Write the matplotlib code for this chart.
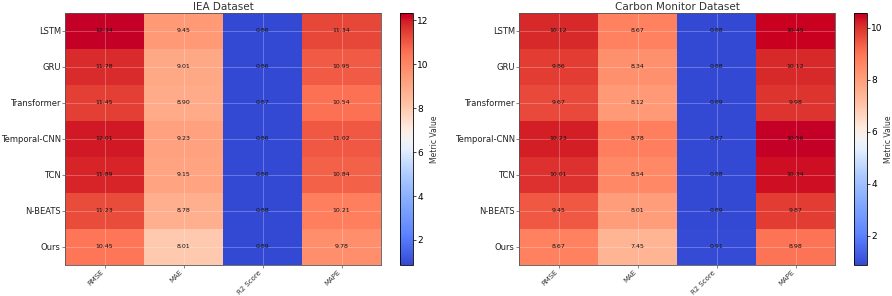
import numpy as np
import matplotlib.pyplot as plt
from matplotlib.colors import ListedColormap, rgb_to_hsv, hsv_to_rgb

models = ['LSTM', 'GRU', 'Transformer', 'Temporal-CNN', 'TCN', 'N-BEATS', 'Ours']
metrics = ['RMSE', 'MAE', 'R2 Score', 'MAPE']

# IEA dataset
iea_rmse = [12.34, 11.78, 11.45, 12.01, 11.89, 11.23, 10.45]
iea_mae = [9.45, 9.01, 8.90, 9.23, 9.15, 8.78, 8.01]
iea_r2 = [0.86, 0.86, 0.87, 0.86, 0.86, 0.88, 0.89]
iea_mape = [11.34, 10.95, 10.54, 11.02, 10.84, 10.21, 9.78]

# Carbon Monitor dataset
cm_rmse = [10.12, 9.86, 9.67, 10.23, 10.01, 9.45, 8.67]
cm_mae = [8.67, 8.34, 8.12, 8.78, 8.54, 8.01, 7.45]
cm_r2 = [0.88, 0.88, 0.89, 0.87, 0.88, 0.89, 0.91]
cm_mape = [10.45, 10.12, 9.98, 10.56, 10.34, 9.87, 8.98]

iea = np.array([iea_rmse, iea_mae, iea_r2, iea_mape]).T
cm = np.array([cm_rmse, cm_mae, cm_r2, cm_mape]).T

# coolwarm, a bit brighter like the reference image
base = plt.get_cmap('coolwarm')(np.linspace(0, 1, 256))[:, :3]
hsv = rgb_to_hsv(base)
hsv[:, 1] = np.clip(hsv[:, 1] * 1.08, 0, 1)
hsv[:, 2] = np.clip(hsv[:, 2] * 1.1, 0, 1)
cmap = ListedColormap(hsv_to_rgb(hsv))

fig = plt.figure(figsize=(8.92, 2.96), dpi=100)

def heat(data, title, rect, crect):
    ax = fig.add_axes(rect)
    im = ax.imshow(data, cmap=cmap, aspect='auto')
    ax.set_title(title, fontsize=7.5, color='#333333', pad=2)
    ax.set_xticks(range(len(metrics)))
    ax.set_xticklabels(metrics, rotation=45, ha='right', fontsize=5, color='#333333')
    ax.set_yticks(range(len(models)))
    ax.set_yticklabels(models, fontsize=6, color='#222222')
    ax.tick_params(length=2, width=0.5, color='#555555', pad=1)
    ax.grid(True, color='white', alpha=0.3, linewidth=0.6)
    for s in ax.spines.values():
        s.set_linewidth(0.6)
        s.set_color('#555555')
    for i in range(data.shape[0]):
        for j in range(data.shape[1]):
            ax.text(j, i, f'{data[i, j]:.2f}', ha='center', va='center', fontsize=4.5, color='#111111')
    cax = fig.add_axes(crect)
    cb = fig.colorbar(im, cax=cax)
    cb.set_label('Metric Value', fontsize=5.5, color='#333333', labelpad=1)
    cb.ax.tick_params(labelsize=6.5, length=2, width=0.5, pad=1)
    cb.outline.set_linewidth(0.6)

heat(iea, 'IEA Dataset', [65/892, 31/296, 316/892, 252/296], [400/892, 31/296, 13/892, 252/296])
heat(cm, 'Carbon Monitor Dataset', [519/892, 31/296, 316/892, 252/296], [854/892, 31/296, 13/892, 252/296])

fig.savefig('out.png', dpi=100)
